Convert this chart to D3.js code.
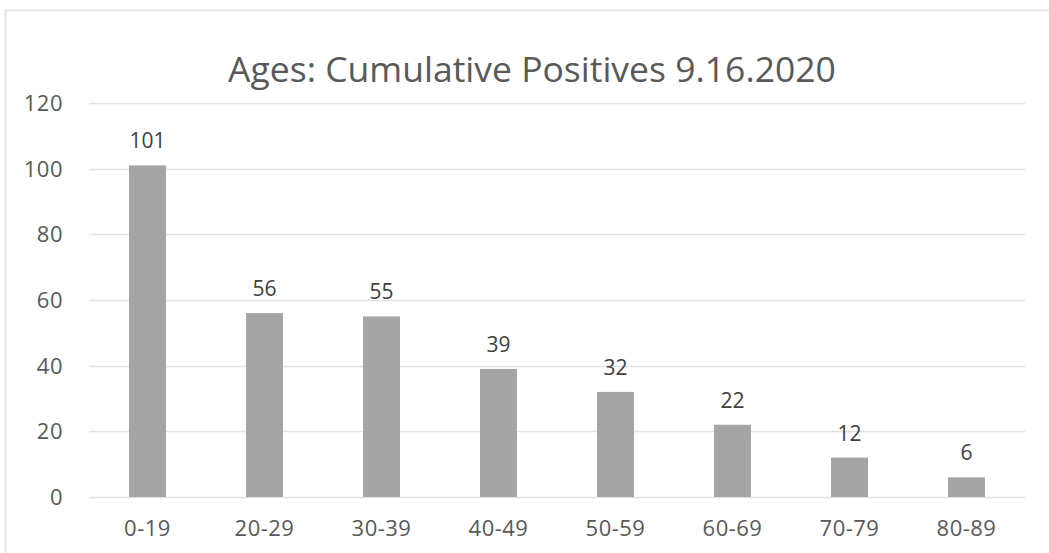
<!DOCTYPE html>
<html><head><meta charset="utf-8">
<script src="https://cdn.jsdelivr.net/npm/d3@7"></script>
<style>body{margin:0;background:#fff;}svg{display:block;}</style>
</head><body>
<script>
const categories = ["0-19","20-29","30-39","40-49","50-59","60-69","70-79","80-89"];
const values = [101,56,55,39,32,22,12,6];
const yTicks = [0,20,40,60,80,100,120];
const title = "Ages: Cumulative Positives 9.16.2020";

const W = 1049, H = 553;
const svg = d3.select("body").append("svg").attr("width", W).attr("height", H);
const font = "'Open Sans', sans-serif";

// outer chart border (top and left visible)
svg.append("path").attr("d", "M5.5,560 L5.5,10.5 L1060,10.5")
  .attr("fill","none").attr("stroke","#e3e3e3").attr("stroke-width",2);

const x = d3.scaleBand().domain(categories).range([89, 1025]).paddingInner(0.684).paddingOuter(0.342);
const y = d3.scaleLinear().domain([0,120]).range([497, 103]);

// gridlines
svg.append("g").selectAll("line").data(yTicks).join("line")
  .attr("x1", 89).attr("x2", 1025)
  .attr("y1", d => Math.round(y(d))+0.5).attr("y2", d => Math.round(y(d))+0.5)
  .attr("stroke", "#e2e2e2").attr("stroke-width", 1.5);

// y tick labels
svg.append("g").selectAll("text").data(yTicks).join("text")
  .attr("x", 63).attr("y", d => y(d)).attr("dy", "0.36em")
  .attr("text-anchor","end").attr("fill","#595959")
  .attr("font-family", font).attr("font-size", 22).attr("letter-spacing", 0.5).text(d => d);

// bars
svg.append("g").selectAll("rect").data(values).join("rect")
  .attr("x", (d,i) => x(categories[i])).attr("width", x.bandwidth())
  .attr("y", d => y(d)).attr("height", d => y(0) - y(d))
  .attr("fill", "#a5a5a5");

// value labels
svg.append("g").selectAll("text").data(values).join("text")
  .attr("x", (d,i) => x(categories[i]) + x.bandwidth()/2)
  .attr("y", d => y(d) - 17)
  .attr("text-anchor","middle").attr("fill","#404040")
  .attr("font-family", font).attr("font-size", 21).text(d => d);

// x labels
svg.append("g").selectAll("text").data(categories).join("text")
  .attr("x", d => x(d) + x.bandwidth()/2).attr("y", 536)
  .attr("text-anchor","middle").attr("fill","#595959")
  .attr("font-family", font).attr("font-size", 22).attr("letter-spacing", 0.5).text(d => d);

// title
svg.append("text").attr("x", 532).attr("y", 82)
  .attr("text-anchor","middle").attr("fill","#595959")
  .attr("font-family", font).attr("font-size", 35.5).text(title);
</script>
</body></html>
